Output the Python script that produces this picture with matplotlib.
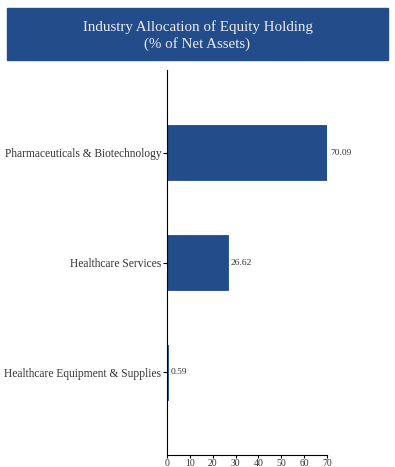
import matplotlib.pyplot as plt
from matplotlib.patches import Rectangle

categories = ["Pharmaceuticals & Biotechnology", "Healthcare Services",
              "Healthcare Equipment & Supplies"]
values = [70.09, 26.62, 0.59]
xticks = [0, 10, 20, 30, 40, 50, 60, 70]

plt.rcParams["font.family"] = ["Liberation Serif", "DejaVu Serif"]
navy = "#234C8A"
ink = "#333333"

fig = plt.figure(figsize=(3.95, 4.67), dpi=100)

# header banner
fig.patches.append(Rectangle((7 / 395, 1 - 60 / 467), 381 / 395, 52 / 467,
                             transform=fig.transFigure, color=navy, zorder=0))
fig.text(0.5, 1 - 36 / 467, "Industry Allocation of Equity Holding\n(% of Net Assets)",
         ha="center", va="center", color="#ECECF2", fontsize=10.8, linespacing=1.3)

ax = fig.add_axes([167 / 395, 1 - 455 / 467, 160 / 395, 385 / 467])
ax.barh(range(len(categories)), values, height=0.5, color=navy,
        edgecolor=navy, linewidth=0.6)
for i, v in enumerate(values):
    ax.text(v + 1.2, i, f"{v:.2f}", va="center", ha="left", fontsize=6.8, color=ink)

ax.set_xlim(0, 70)
ax.set_ylim(2.755, -0.755)
ax.set_xticks(xticks)
ax.set_yticks(range(len(categories)))
ax.set_yticklabels(categories, fontsize=8.3, color=ink)
ax.tick_params(axis="x", labelsize=7, length=2.5, pad=0.5, labelcolor=ink)
ax.tick_params(axis="y", length=3, pad=1)
for s in ["top", "right"]:
    ax.spines[s].set_visible(False)

fig.savefig("out.png", dpi=100)
